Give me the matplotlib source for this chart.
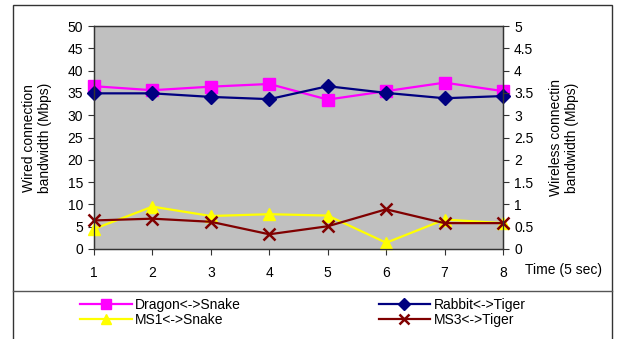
import matplotlib
matplotlib.use("Agg")
import matplotlib.pyplot as plt
from matplotlib.patches import Rectangle
from matplotlib.lines import Line2D

plt.rcParams['font.family'] = ['Liberation Sans', 'DejaVu Sans']
plt.rcParams['font.size'] = 10

W, H = 619, 339

time_steps = [1, 2, 3, 4, 5, 6, 7, 8]

# wired links (left axis, Mbps)
dragon_snake = [36.5, 35.6, 36.4, 37.0, 33.5, 35.4, 37.3, 35.4]
rabbit_tiger = [34.9, 34.9, 34.1, 33.6, 36.5, 35.0, 33.8, 34.3]

# wireless links (right axis, Mbps)
ms1_snake = [0.45, 0.95, 0.74, 0.78, 0.75, 0.14, 0.66, 0.58]
ms3_tiger = [0.64, 0.68, 0.61, 0.33, 0.51, 0.89, 0.58, 0.58]

left_ticks = [0, 5, 10, 15, 20, 25, 30, 35, 40, 45, 50]
right_ticks = [0, 0.5, 1, 1.5, 2, 2.5, 3, 3.5, 4, 4.5, 5]
right_labels = ["0", "0.5", "1", "1.5", "2", "2.5", "3", "3.5", "4", "4.5", "5"]


def px(x0, y0, x1, y1):
    # pixel box (top-left origin) -> figure fraction rect
    return [x0 / W, 1 - y1 / H, (x1 - x0) / W, (y1 - y0) / H]


fig = plt.figure(figsize=(W / 100, H / 100), dpi=100)

# outer frame and legend separator
fig.patches.append(Rectangle((13 / W, -0.05), (612 - 13) / W, 1.05 - 5 / H,
                             transform=fig.transFigure, fill=False,
                             edgecolor="#333333", linewidth=1.0))
fig.lines.append(Line2D([13 / W, 612 / W], [1 - 291 / H, 1 - 291 / H],
                        transform=fig.transFigure, color="#555555", linewidth=1.0))

ax = fig.add_axes(px(94, 26, 503, 249))
ax.set_facecolor("#C0C0C0")
ax2 = ax.twinx()

l1, = ax.plot(time_steps, dragon_snake, color="#FF00FF", lw=1.6,
              marker="s", markersize=8.5, label="Dragon<->Snake", clip_on=False)
l2, = ax.plot(time_steps, rabbit_tiger, color="#000080", lw=1.6,
              marker="D", markersize=7.5, label="Rabbit<->Tiger", clip_on=False)
l3, = ax2.plot(time_steps, ms1_snake, color="#FFFF00", lw=1.6,
               marker="^", markersize=9, label="MS1<->Snake", clip_on=False)
l4, = ax2.plot(time_steps, ms3_tiger, color="#800000", lw=1.6,
               marker="x", markersize=9, markeredgewidth=1.8,
               label="MS3<->Tiger", clip_on=False)

ax.set_xlim(1, 8)
ax.set_ylim(0, 50)
ax2.set_ylim(0, 5)
ax.set_xticks(time_steps)
ax.set_yticks(left_ticks)
ax2.set_yticks(right_ticks)
ax2.set_yticklabels(right_labels)

for a in (ax, ax2):
    a.tick_params(direction="out", length=4, width=0.8, color="#333333",
                  labelsize=10, pad=4)
    for s in a.spines.values():
        s.set_color("#333333")
        s.set_linewidth(0.9)
ax.tick_params(axis="x", pad=8)

fig.text(37 / W, 1 - 138 / H, "Wired connection\nbandwidth (Mbps)",
         rotation=90, ha="center", va="center", fontsize=10)
fig.text(564 / W, 1 - 138 / H, "Wireless connectin\nbandwidth (Mbps)",
         rotation=90, ha="center", va="center", fontsize=10)
fig.text(525 / W, 1 - 270 / H, "Time (5 sec)", ha="left", va="center", fontsize=10)

# legend filled column-wise: wired pair on the top row, wireless pair below
handles = [l1, l3, l2, l4]
fig.legend(handles, [h.get_label() for h in handles],
           loc="upper left", bbox_to_anchor=(72 / W, 1 - 290 / H),
           ncol=2, frameon=False, handlelength=3.7, handletextpad=0.25,
           columnspacing=9.9, labelspacing=0.05, borderpad=0.1, fontsize=10,
           markerscale=0.85)

fig.savefig("out.png", dpi=100)
